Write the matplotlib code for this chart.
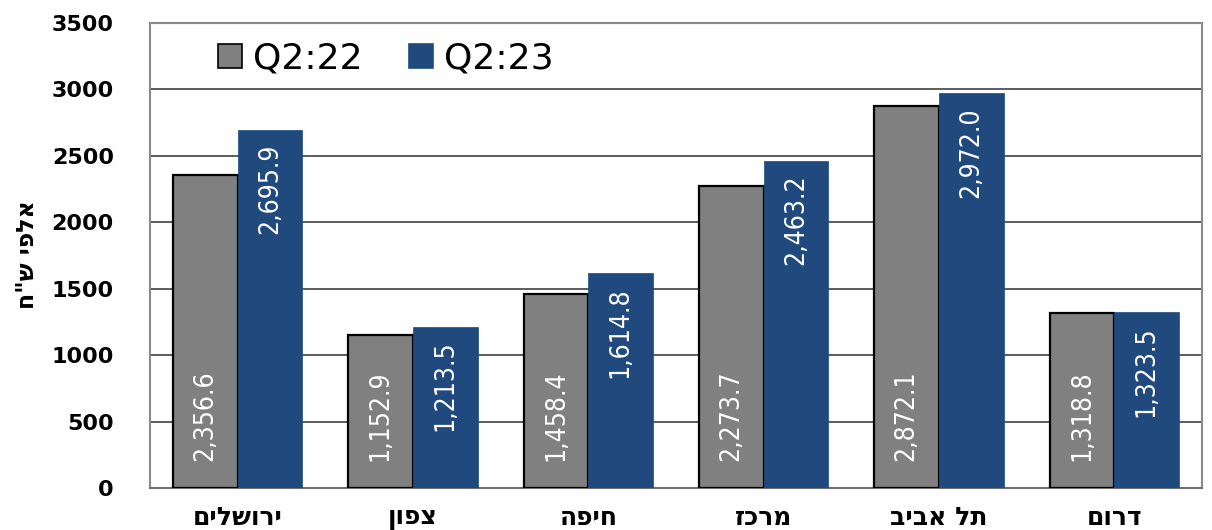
import matplotlib
matplotlib.use("Agg")
import matplotlib.pyplot as plt
from matplotlib import font_manager
import numpy as np

# Regions (Hebrew, logical order)
regions = ["ירושלים", "צפון", "חיפה", "מרכז", "תל אביב", "דרום"]
series_names = ["Q2:22", "Q2:23"]
values_q2_22 = [2356.6, 1152.9, 1458.4, 2273.7, 2872.1, 1318.8]
values_q2_23 = [2695.9, 1213.5, 1614.8, 2463.2, 2972.0, 1323.5]
y_ticks = [0, 500, 1000, 1500, 2000, 2500, 3000, 3500]
y_label = 'אלפי ש"ח'

GRAY = "#808080"
BLUE = "#204A7E"


def visual(s):
    # matplotlib has no bidi support: reverse RTL strings for display
    return s[::-1]


fonts = font_manager.fontManager.ttflist
installed = {f.name for f in fonts}
has_condensed = any(f.name == "DejaVu Sans" and f.stretch == "condensed"
                    for f in fonts)
if "Liberation Sans Narrow" in installed:
    value_kw = dict(family=["Liberation Sans Narrow", "DejaVu Sans"],
                    fontsize=23)
elif has_condensed:
    value_kw = dict(family=["DejaVu Sans"], fontstretch="condensed",
                    fontsize=19)
else:
    value_kw = dict(family=["DejaVu Sans"], fontsize=17)

fig = plt.figure(figsize=(12.12, 5.30), dpi=100)
ax = fig.add_axes([150 / 1212, 1 - 488 / 530, 1052 / 1212, 465 / 530])

x = np.arange(len(regions))
w = 0.368
b1 = ax.bar(x - w / 2, values_q2_22, w, color=GRAY, edgecolor="black",
            linewidth=1.6, label=series_names[0], zorder=3)
b2 = ax.bar(x + w / 2, values_q2_23, w, color=BLUE, edgecolor=BLUE,
            linewidth=0.5, label=series_names[1], zorder=3)

# value labels: Q2:22 near the base, Q2:23 near the top of the bar
for rect, v in zip(b1, values_q2_22):
    ax.annotate(f"{v:,.1f}", (rect.get_x() + rect.get_width() / 2, 0),
                xytext=(0, 27), textcoords="offset pixels",
                rotation=90, ha="center", va="bottom", color="white",
                zorder=4, **value_kw)
for rect, v in zip(b2, values_q2_23):
    ax.annotate(f"{v:,.1f}", (rect.get_x() + rect.get_width() / 2, v),
                xytext=(0, -14), textcoords="offset pixels",
                rotation=90, ha="center", va="top", color="white",
                zorder=4, **value_kw)

ax.set_xlim(-0.5, len(regions) - 0.5)
ax.set_ylim(0, 3500)
ax.set_yticks(y_ticks)
ax.set_yticklabels([str(t) for t in y_ticks], family="DejaVu Sans",
                   fontweight="bold", fontsize=16)
ax.set_xticks(x)
ax.set_xticklabels([visual(r) for r in regions], family="DejaVu Sans",
                   fontweight="bold", fontsize=18)
ax.tick_params(axis="y", length=0, pad=26)
ax.tick_params(axis="x", length=0, pad=13)

ax.grid(axis="y", color="#303030", linewidth=1.1, zorder=1)
ax.set_axisbelow(True)
for side in ["left", "right", "top"]:
    ax.spines[side].set_color("#8a8a8a")
    ax.spines[side].set_linewidth(1.5)
ax.spines["bottom"].set_color("#707070")
ax.spines["bottom"].set_linewidth(1.5)

fig.text(27 / 1212, 1 - 255 / 530, visual(y_label), rotation=90,
         ha="center", va="center", family="DejaVu Sans",
         fontweight="bold", fontsize=17)

leg = ax.legend(loc="center left", bbox_to_anchor=(0.065, 0.923), ncol=2,
                frameon=False, prop={"family": "DejaVu Sans", "size": 26},
                handlelength=0.65, handleheight=0.65, handletextpad=0.3,
                columnspacing=1.3, borderpad=0, borderaxespad=0)
for h in leg.legend_handles:
    h.set_linewidth(1.2)

fig.savefig("out.png", dpi=100)
